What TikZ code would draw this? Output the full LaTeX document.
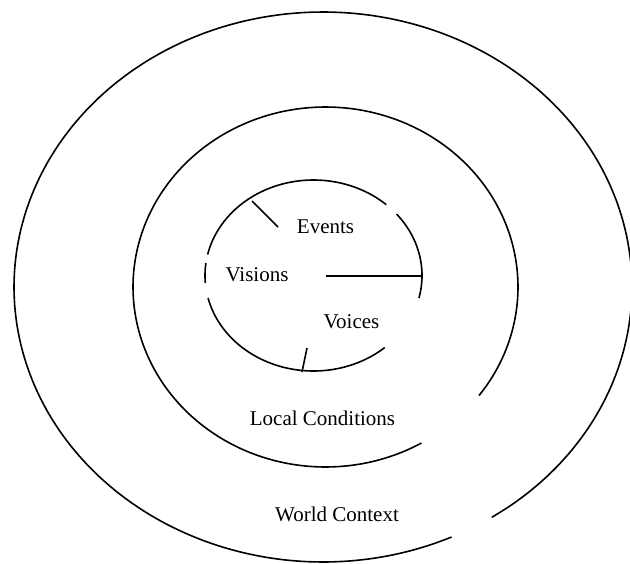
\documentclass[tikz,border=0pt]{standalone}
\usepackage{fontspec}
\setmainfont{Liberation Serif}
\begin{document}
\begin{tikzpicture}[x=1pt, y=-1pt, line width=1.6pt,
  ring/.style={samples=90, smooth},
  lbl/.style={anchor=base, font=\fontsize{21}{25}\selectfont}]
  \useasboundingbox (0, 0) rectangle (630, 563);
  \clip (0, 0) rectangle (630, 563);
  % outer ring
  \draw[ring, domain=-294.6:56.9] plot ({323+309*cos(\x)}, {287+275*sin(\x)});
  % middle ring
  \draw[ring, domain=-299.9:37.1] plot ({325.5+192.5*cos(\x)}, {287+180*sin(\x)});
  % inner ring, in pieces
  \draw[ring, domain=-40:13.7] plot ({313.5+108.5*cos(\x)}, {275.5+95.5*sin(\x)});
  \draw[ring, domain=49:166.4] plot ({313.5+108.5*cos(\x)}, {275.5+95.5*sin(\x)});
  \draw[ring, domain=175.5:187.5] plot ({313.5+108.5*cos(\x)}, {275.5+95.5*sin(\x)});
  \draw[ring, domain=192.7:312.1] plot ({313.5+108.5*cos(\x)}, {275.5+95.5*sin(\x)});

  \coordinate (ul) at (252, 201);
  \coordinate (uli) at (278, 227);
  \coordinate (hc) at (326, 276);
  \coordinate (hr) at (422, 276);
  \coordinate (bi) at (307, 348);
  \coordinate (bo) at (302, 372);
  \draw (ul) -- (uli);
  \draw (hc) -- (hr);
  \draw (bi) -- (bo);

  \node[lbl] (events) at (325.5, 233) {Events};
  \node[lbl] (visions) at (257, 281) {Visions};
  \node[lbl] (voices) at (351.5, 328) {Voices};
  \node[lbl] (local) at (322.5, 425) {Local Conditions};
  \node[lbl] (world) at (337, 521) {World Context};
\end{tikzpicture}
\end{document}
